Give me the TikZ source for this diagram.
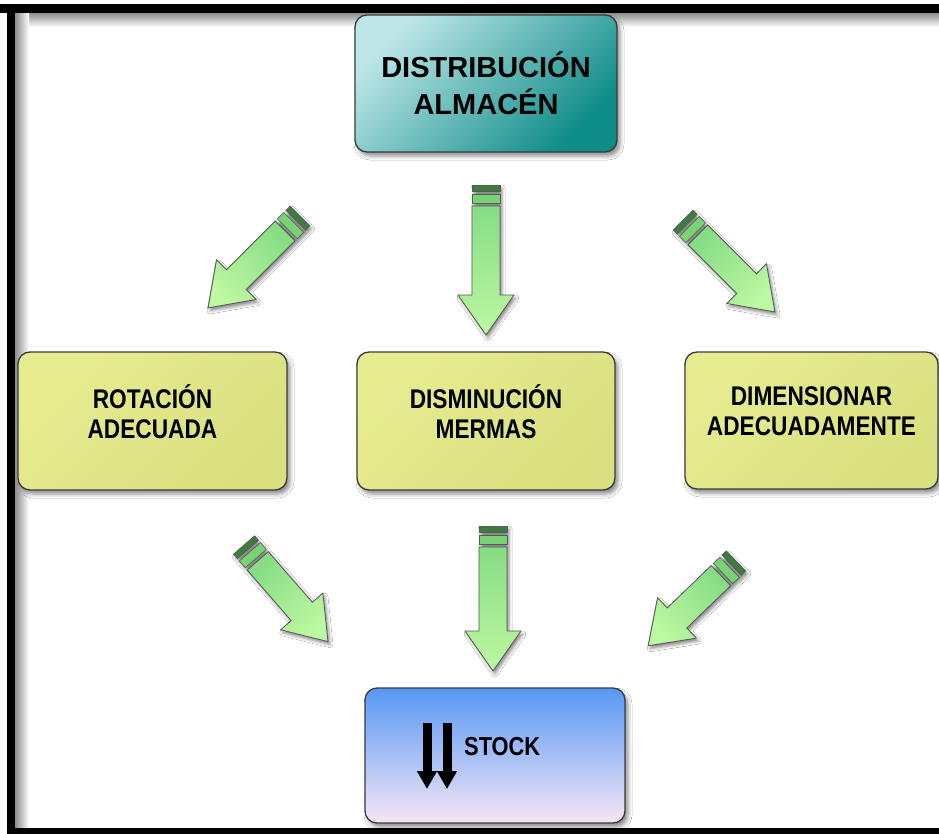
\documentclass[tikz,border=0pt]{standalone}
\usepackage{fontspec}
\setmainfont{Liberation Sans}
\newfontfamily\lblfont{Liberation Sans}[FakeStretch=0.84]
\usetikzlibrary{shadows.blur,arrows.meta}

\definecolor{tealL}{HTML}{BEE6E8}
\definecolor{tealM}{HTML}{6BBDBD}
\definecolor{tealD}{HTML}{0E8C88}
\definecolor{yelL}{HTML}{E6EC90}
\definecolor{yelM}{HTML}{F5F3A3}
\definecolor{yelD}{HTML}{D9E07F}
\definecolor{bluT}{HTML}{5698F4}
\definecolor{bluM}{HTML}{A6CBEF}
\definecolor{bluB}{HTML}{F6E6F6}
\definecolor{arrL}{HTML}{BDF8A2}
\definecolor{arrD}{HTML}{86DD83}
\definecolor{strD}{HTML}{3F7A40}
\definecolor{strL}{HTML}{78D473}
\definecolor{edge}{HTML}{3A3A3A}

\tikzset{
  box/.style={draw=edge, line width=1.3pt, rounded corners=12pt, inner sep=0pt,
    blur shadow={shadow xshift=3pt, shadow yshift=-4pt, shadow blur radius=4pt, shadow opacity=45}},
  tealbox/.style={box, top color=tealL, middle color=tealM, bottom color=tealD, shading angle=45},
  yelbox/.style={box, top color=yelL, middle color=yelM, bottom color=yelD, shading angle=45},
  stockbox/.style={box, top color=bluT, middle color=bluM, bottom color=bluB},
  titletxt/.style={font=\bfseries\fontsize{29}{37}\selectfont, align=center, inner sep=0pt},
  itemtxt/.style={font=\lblfont\bfseries\fontsize{27}{30}\selectfont, align=center, inner sep=0pt},
  % block arrow: #1 length, #2 direction, #3 shading angle (direction - 90)
  pics/fatarrow/.style n args={3}{code={
    \begin{scope}[xshift=2pt, yshift=-3pt, rotate=#2]
      \path[blur shadow={shadow xshift=0pt, shadow yshift=0pt, shadow blur radius=3pt, shadow opacity=45}]
        (0,-14) -- ({#1-40},-14) -- ({#1-40},-28) -- (#1,0) -- ({#1-40},28) -- ({#1-40},14) -- (0,14) -- cycle;
    \end{scope}
    \begin{scope}[rotate=#2]
      \filldraw[draw=edge!85, line width=0.8pt, bottom color=arrD, top color=arrL, shading angle=#3]
        (21,-14) -- ({#1-40},-14) -- ({#1-40},-28) -- (#1,0) -- ({#1-40},28) -- ({#1-40},14) -- (21,14) -- cycle;
      \filldraw[draw=edge!85, fill=strL, line width=0.6pt] (9,-14) rectangle (18,14);
      \filldraw[draw=edge!85, fill=strD, line width=0.6pt] (0,-14) rectangle (6,14);
    \end{scope}
  }}
}

\begin{document}
\begin{tikzpicture}[x=1pt, y=-1pt]
  \useasboundingbox (0,0) rectangle (939,834);
  \fill[white] (0,0) rectangle (939,834);

  % frame with inner shade
  \shade[top color=black!45, bottom color=white] (15,13) rectangle (939,27);
  \shade[left color=black!45, right color=white] (15,13) rectangle (29,828);
  \fill[black] (0,4) rectangle (939,13);
  \fill[black] (7,4) rectangle (15,834);
  \fill[black] (7,828) rectangle (939,834);

  % boxes
  \node[tealbox, minimum width=262pt, minimum height=137pt] (dist) at (486,83.5) {};
  \node[titletxt] (distT) at (dist.center) {DISTRIBUCIÓN\\ALMACÉN};

  \node[yelbox, minimum width=269pt, minimum height=138pt] (rot) at (152.5,421) {};
  \node[itemtxt] (rotT) at ([yshift=9pt]rot.center) {ROTACIÓN\\ADECUADA};

  \node[yelbox, minimum width=258pt, minimum height=138pt] (dism) at (486,421) {};
  \node[itemtxt] (dismT) at ([yshift=9pt]dism.center) {DISMINUCIÓN\\MERMAS};

  \node[yelbox, minimum width=253pt, minimum height=137pt] (dimen) at (811.5,420.5) {};
  \node[itemtxt] (dimenT) at ([yshift=9pt]dimen.center) {DIMENSIONAR\\ADECUADAMENTE};

  \node[stockbox, minimum width=260pt, minimum height=135pt] (stock) at (495,755.5) {};
  \node[itemtxt, anchor=west, font=\lblfont\bfseries\fontsize{26}{30}\selectfont] (stockT) at (464,747) {STOCK};
  \coordinate (d1a) at (427,723);
  \coordinate (d1b) at (427,789);
  \coordinate (d2a) at (447,723);
  \coordinate (d2b) at (447,789);
  \draw[line width=9pt, -{Triangle[width=19pt,length=18pt]}] (d1a) -- (d1b);
  \draw[line width=9pt, -{Triangle[width=19pt,length=18pt]}] (d2a) -- (d2b);

  % block arrows
  \coordinate (a1) at (300,216);
  \coordinate (a2) at (486,185);
  \coordinate (a3) at (683,220);
  \coordinate (b1) at (244,545);
  \coordinate (b2) at (493,526);
  \coordinate (b3) at (736,561);
  \pic at (a1) {fatarrow={130}{-135}{-225}};
  \pic at (a2) {fatarrow={150}{-90}{-180}};
  \pic at (a3) {fatarrow={130}{-45}{-135}};
  \pic at (b1) {fatarrow={128}{-49}{-139}};
  \pic at (b2) {fatarrow={145}{-90}{-180}};
  \pic at (b3) {fatarrow={122}{-136}{-226}};
\end{tikzpicture}
\end{document}
